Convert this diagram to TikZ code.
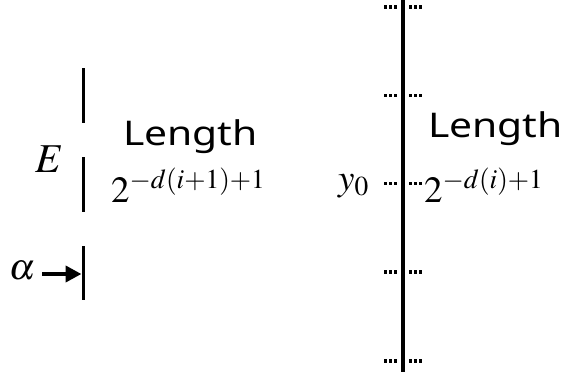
\documentclass[tikz,border=0pt]{standalone}
\usepackage{mathptmx}
\usepackage{fontspec}
\newfontfamily\lensans{Noto Sans}
\usetikzlibrary{arrows.meta}
\tikzset{
  bar/.style={line width=3.8pt},
  dotsq/.style={fill=black},
  lenlabel/.style={inner sep=0pt, anchor=base west, font=\lensans\fontsize{34}{40}\selectfont},
  mathlabel/.style={inner sep=0pt, font=\fontsize{37}{44}\selectfont},
}
\begin{document}
\begin{tikzpicture}[x=1pt,y=-1pt]
\useasboundingbox (0,0) rectangle (568,372);
% left segments
\coordinate (s1a) at (83.5,68);  \coordinate (s1b) at (83.5,123);
\coordinate (s2a) at (83.5,157); \coordinate (s2b) at (83.5,212);
\coordinate (s3a) at (83.5,246); \coordinate (s3b) at (83.5,300);
\draw[bar] (s1a) -- (s1b);
\draw[bar] (s2a) -- (s2b);
\draw[bar] (s3a) -- (s3b);
\node[mathlabel, font=\fontsize{41}{48}\selectfont] (E) at (50,159) {$E$};
\node[mathlabel] (alpha) at (22,271) {$\alpha$};
\coordinate (arrs) at (42,274);
\coordinate (arre) at (81.5,274);
\draw[line width=4pt, -{Triangle[length=16pt,width=16pt]}] (arrs) -- (arre);
\node[lenlabel] (len1) at (123,145) {\scalebox{1.2}[1]{Length}};
\node[mathlabel, anchor=base west] (f1) at (111,202) {$2^{-d(i+1)+1}$};
% right axis
\coordinate (ax1) at (402.5,0);
\coordinate (ax2) at (402.5,372);
\draw[bar, line width=4pt] (ax1) -- (ax2);
\foreach \yy in {7,95.5,183.5,272,361}{
  \foreach \xx in {385.3,390.3,395.3,410.3,415.3,420.3}{
    \fill[dotsq] (\xx-1.6,\yy-1.6) rectangle (\xx+1.6,\yy+1.6);
  }
}
\node[mathlabel, anchor=base west] (y0) at (338,190) {$y_0$};
\node[lenlabel] (len2) at (428,137) {\scalebox{1.2}[1]{Length}};
\node[mathlabel, anchor=base west] (f2) at (424,202) {$2^{-d(i)+1}$};
\end{tikzpicture}
\end{document}
